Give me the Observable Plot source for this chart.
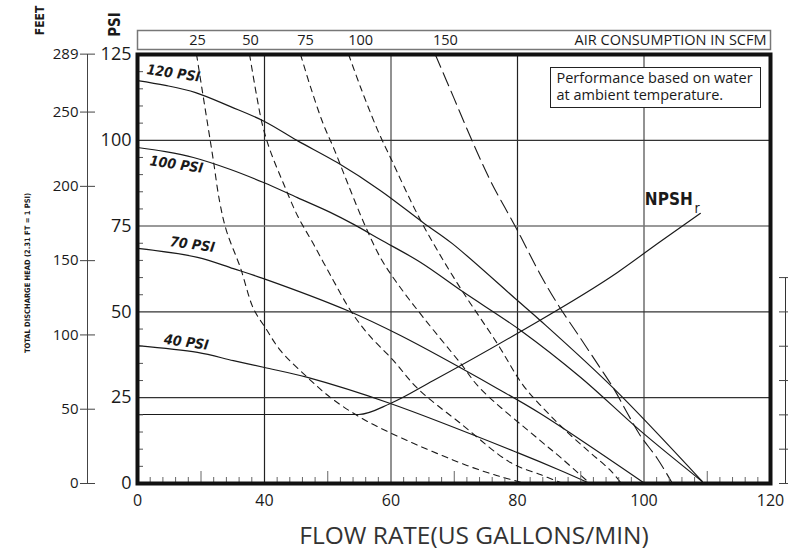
<!DOCTYPE html>
<html><head><meta charset="utf-8">
<script src="https://cdn.jsdelivr.net/npm/d3@7"></script>
<script src="https://cdn.jsdelivr.net/npm/@observablehq/plot@0.6"></script>
<style>
html,body{margin:0;padding:0;background:#fff;}
#chart svg{display:block;}
</style></head><body><div id="chart"></div>
<script>
// ---- Discharge head curves: [flow US GPM, head PSI] ----
const head120 = [[0,117.4],[8.8,116.0],[18.3,113.9],[29.3,109.8],[40,105.5],[45.2,99.9],[51.5,93.5],[58.3,85.4],[65.1,76.0],[69.7,69.9],[80,53.3],[83.6,47.5],[95.2,27.7],[109.2,0.6]];
const head100 = [[0,97.9],[8.8,96.7],[17.6,95.0],[29.3,91.5],[39.7,87.7],[45.2,83.3],[50.4,79.0],[54.1,75.5],[58.3,71.1],[64.7,64.4],[71.5,55.7],[80.5,44.6],[90.0,30.9],[99.4,15.4],[109.2,0.6]];
const head70  = [[0,68.5],[18.9,65.9],[30.2,62.6],[39.7,59.7],[53.1,50.4],[61.5,43.1],[76.8,27.7],[83.6,20.4],[99.9,0.3]];
const head40  = [[0,40.2],[18.9,38.2],[30.2,35.8],[40,33.8],[46.8,30.9],[59.9,23.3],[80,9.0],[86.8,3.8],[91.1,0.3]];
const headNames = ["120 PSI","100 PSI","70 PSI","40 PSI"];
const headLabelX = [11.3, 12.3, 17.3, 15.4];
const headLabelY = [119.5, 92.9, 69.6, 41.1];

// ---- NPSHr curve ----
const npsh = [[0,20.1],[54.9,20.1],[59.9,23.3],[66.7,30.0],[80.5,44.3],[95.8,61.5],[102.6,70.5],[108.9,78.7]];

// ---- Air consumption curves (SCFM) ----
const scfm25  = [[18.6,125],[20.5,113.9],[22.4,102.9],[23.9,94.1],[25.8,82.5],[28.0,73.7],[32.4,62.9],[36.5,51.0],[40.2,45.2],[42.5,38.8],[46.8,30.9],[50.4,25.1],[55.2,19.2],[61.5,13.4],[72.1,5.2],[77.3,2.0],[81.3,0]];
const scfm50  = [[35.3,125],[37.5,113.1],[39.4,104.3],[40.9,97.0],[43.0,87.4],[45.2,78.1],[47.7,69.9],[50.9,59.1],[53.6,50.4],[56.3,43.7],[60.4,35.8],[64.2,27.7],[71.0,17.5],[78.9,6.1],[83.6,2.6],[86.8,0.3]];
const scfm75  = [[45.7,125],[47.3,115.4],[49.2,105.2],[51.1,97.0],[53.1,87.7],[55.7,76.0],[58.3,65.9],[61.0,58.3],[65.1,48.4],[71.0,35.0],[74.1,27.7],[83.6,12.5],[86.8,7.6],[91.1,0.6]];
const scfm100 = [[53.3,125],[55.2,115.4],[57.9,102.9],[59.9,95.0],[64.7,76.6],[70.5,58.3],[76.8,40.8],[80.9,28.6],[84.4,21.3],[87.9,14.9],[91.5,9.0],[94.7,3.8],[96.3,0.3]];
const scfm150 = [[67.0,125],[69.9,112.5],[72.6,100.8],[75.7,88.3],[80.0,73.7],[83.6,60.9],[86.3,52.4],[90.0,42.2],[92.6,35.0],[95.2,27.7],[97.4,20.4],[99.4,14.0],[102.1,7.3],[104.4,0.3]];
const scfmNames = ["25","50","75","100","150"];
const scfmLabelX = [18.9, 35.6, 46.5, 55.2, 68.6];

// ---- Axis tick labels ----
const xTickLabels = [0, 40, 60, 80, 100, 120];
const psiTickLabels = [0, 25, 50, 75, 100, 125];
const feetTickLabels = [0, 50, 100, 150, 200, 250, 289];
const npshTicks = [0, 10, 20, 30, 40, 50, 60];

// ---- build tables ----
const heads = [head120, head100, head70, head40];
const headRows = heads.flatMap((s, i) => s.map(([x, y]) => ({series: headNames[i], x, y})));
const scfms = [scfm25, scfm50, scfm75, scfm100];
const scfmRows = scfms.flatMap((s, i) => s.map(([x, y]) => ({series: scfmNames[i], x, y})));
const scfm150Rows = scfm150.map(([x, y]) => ({series: "150", x, y}));
const npshRows = npsh.map(([x, y]) => ({x, y}));
const headLabels = headNames.map((t, i) => ({t, x: headLabelX[i], y: headLabelY[i]}));
const scfmLabels = scfmNames.map((t, i) => ({t, x: scfmLabelX[i]}));

const xMinor = d3.range(4, 40, 4).filter(d => d !== 20).concat(d3.range(42, 120, 2).filter(d => d % 10 !== 0));
const xMajor = [20, 50, 70, 90, 110];
const psiMinor = d3.range(5, 125, 5).filter(d => d % 25 !== 0);

const sans = "'Open Sans', 'DejaVu Sans', sans-serif";
const narrow = "'Liberation Sans Narrow', 'DejaVu Sans Condensed', 'Roboto', sans-serif";
const ink = "#1a1a1a";

const chart = Plot.plot({
  width: 788,
  height: 551,
  marginLeft: 137,
  marginRight: 18,
  marginTop: 54,
  marginBottom: 68,
  style: {fontFamily: sans, color: ink, background: "#fff"},
  x: {type: "linear", domain: [0, 40, 120], range: [137, 264, 770]},
  y: {type: "linear", domain: [0, 125], range: [483, 54]},
  marks: [
    // grid
    Plot.gridX([40, 80], {stroke: "#222", strokeOpacity: 1, strokeWidth: 1.2}),
    Plot.gridX([60, 100], {stroke: "#777", strokeOpacity: 1, strokeWidth: 1.6}),
    Plot.gridY([25, 50, 100], {stroke: "#333", strokeOpacity: 1, strokeWidth: 1.2}),
    Plot.gridY([75], {stroke: "#777", strokeOpacity: 1, strokeWidth: 1.5}),
    // NPSH curve
    Plot.line(npshRows, {x: "x", y: "y", stroke: ink, strokeWidth: 1.2, curve: "monotone-x", clip: true}),
    // air consumption
    Plot.line(scfmRows, {x: "x", y: "y", z: "series", stroke: ink, strokeWidth: 1.1, strokeDasharray: "6,5", curve: "catmull-rom", clip: true}),
    Plot.line(scfm150Rows, {x: "x", y: "y", stroke: ink, strokeWidth: 1.1, strokeDasharray: "14,6", curve: "catmull-rom", clip: true}),
    // head curves
    Plot.line(headRows, {x: "x", y: "y", z: "series", stroke: ink, strokeWidth: 1.2, curve: "catmull-rom", clip: true}),
    // inner ticks
    Plot.axisX({ticks: xMinor, tickSize: 6, dy: -6, tickFormat: () => "", stroke: "#666", label: null}),
    Plot.axisX({ticks: xMajor, tickSize: 12, dy: -12, tickFormat: () => "", stroke: "#666", label: null}),
    Plot.axisY({ticks: psiMinor, tickSize: 6, dx: 6, tickFormat: () => "", stroke: "#555", label: null}),
    // frame
    Plot.frame({stroke: "#111", strokeWidth: 4}),
    // top air consumption bar
    Plot.frame({insetTop: -24, insetBottom: 434, stroke: "#777", strokeWidth: 1.5}),
    Plot.text(scfmLabels, {x: "x", text: "t", frameAnchor: "top", lineAnchor: "middle", dy: -14, fontSize: 14.5, fill: ink}),
    Plot.text(["AIR CONSUMPTION IN SCFM"], {text: d => d, frameAnchor: "top-right", textAnchor: "end", lineAnchor: "middle", dx: -4, dy: -14, fontSize: 14.5, fill: ink}),
    // note box
    Plot.frame({insetLeft: 413, insetRight: 10, insetTop: 13, insetBottom: 376, fill: "white", stroke: "#222", strokeWidth: 1}),
    Plot.text(["Performance based on water\nat ambient temperature."], {text: d => d, frameAnchor: "top-left", textAnchor: "start", lineAnchor: "top", dx: 419, dy: 16, fontSize: 14.5, lineHeight: 1.2, fill: ink}),
    // curve labels
    Plot.text(headLabels, {x: "x", y: "y", text: "t", rotate: 8, fontSize: 14, fontWeight: "bold", fontStyle: "italic", fontFamily: narrow, fill: ink}),
    Plot.text(["NPSH"], {text: d => d, x: [107.7], y: [82.7], textAnchor: "end", fontSize: 17, fontWeight: "bold", fontFamily: narrow, fill: ink}),
    Plot.text(["r"], {text: d => d, x: [108.0], y: [80.0], textAnchor: "start", fontSize: 14, fontFamily: narrow, fill: ink}),
    // PSI axis labels
    Plot.axisY({ticks: psiTickLabels, tickSize: 0, tickPadding: 6, fontSize: 18, label: null, fill: ink}),
    // FEET axis
    Plot.ruleX([0], {y1: 0, y2: 125, dx: -50, stroke: "#444"}),
    Plot.axisY({ticks: feetTickLabels.map(f => f / 2.31), tickFormat: d => Math.round(d * 2.31), tickSize: 15, dx: -42, tickPadding: 2, fontSize: 15, label: null, stroke: "#444", fill: ink}),
    // right NPSH scale
    Plot.ruleX([120], {y1: 0, y2: 60, dx: 15, stroke: "#333"}),
    Plot.axisY({anchor: "right", ticks: npshTicks, tickSize: 10, dx: 8, tickFormat: () => "", label: null, stroke: "#444"}),
    // x axis labels
    Plot.axisX({ticks: xTickLabels, tickSize: 0, tickPadding: 11, fontSize: 16, label: null, fill: ink}),
    // titles
    Plot.text(["FLOW RATE(US GALLONS/MIN)"], {text: d => d, frameAnchor: "bottom", textAnchor: "middle", lineAnchor: "middle", dx: 20, dy: 53, fontSize: 24.5, fill: "#333", letterSpacing: "0.5px"}),
    Plot.text(["FEET"], {text: d => d, frameAnchor: "top-left", textAnchor: "middle", lineAnchor: "middle", dx: -97, dy: -34, rotate: -90, fontSize: 12, fontWeight: "bold", fontFamily: narrow, fill: ink}),
    Plot.text(["PSI"], {text: d => d, frameAnchor: "top-left", textAnchor: "middle", lineAnchor: "middle", dx: -22, dy: -30, rotate: -90, fontSize: 15, fontWeight: "bold", fontFamily: narrow, fill: ink}),
    Plot.text(["TOTAL DISCHARGE HEAD (2.31 FT = 1 PSI)"], {text: d => d, frameAnchor: "left", textAnchor: "middle", lineAnchor: "middle", dx: -110, dy: 4, rotate: -90, fontSize: 7.5, fontWeight: "bold", fontFamily: narrow, fill: ink})
  ]
});
document.getElementById("chart").appendChild(chart);
</script>
</body></html>
